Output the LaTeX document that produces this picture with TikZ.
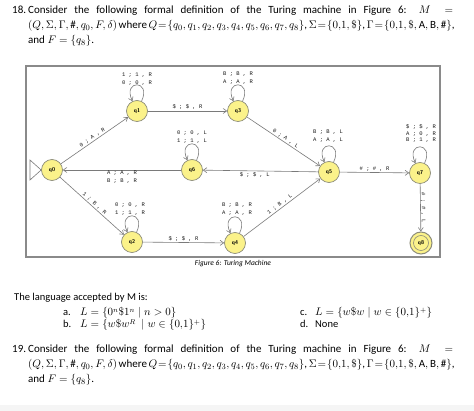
\documentclass[tikz,border=0pt]{standalone}
\usepackage{fontspec}
\setmainfont{Carlito}
\newfontfamily\monof{Liberation Mono}
\usetikzlibrary{arrows.meta}
\definecolor{stfill}{HTML}{FBF28A}
\definecolor{stline}{HTML}{8C8C7A}
\definecolor{edgec}{HTML}{7A7A7A}
\definecolor{framec}{HTML}{8A8A8A}
\newcommand{\qdef}[1]{\noindent\llap{\makebox[16pt][l]{#1.}}Consider the following formal definition of the Turing machine in Figure 6: $M=$\linebreak
\makebox[\linewidth][s]{\thickmuskip=3.5mu plus 2mu minus 2mu\medmuskip=2.5mu plus 1mu minus 1mu$(Q,\Sigma,\Gamma,\#,q_0,F,\delta)$ where $Q=\{q_0,q_1,q_2,q_3,q_4,q_5,q_6,q_7,q_8\}$, $\Sigma=\{0{,}1,\$\}$, $\Gamma=\{0{,}1,\$,\mathrm{A},\mathrm{B},\#\}$,}\linebreak
and $F=\{q_8\}$.}
\begin{document}
\begin{tikzpicture}[x=1pt,y=1pt,
  state/.style={circle, minimum size=21pt, inner sep=0pt, fill=stfill, draw=stline, line width=0.7pt,
    font=\sffamily\bfseries\fontsize{5.5}{6}\selectfont},
  tr/.style={draw=edgec, line width=0.6pt, -{Straight Barb[length=3.5pt,width=5pt]}},
  selfloop/.style={out=65, in=115, distance=24pt},
  lab/.style={font=\monof\fontsize{5.5}{8}\selectfont, inner sep=1pt, align=center, text=black!90},
  body/.style={font=\fontsize{11}{15}\selectfont, inner sep=0pt},
  ans/.style={font=\fontsize{10.5}{12}\selectfont, inner sep=0pt, anchor=base west},
  para/.style={body, anchor=north west, text width=425pt, align=justify}
]
\useasboundingbox (0,0) rectangle (474,-411);
\fill[white] (0,0) rectangle (474,-411);
\fill[black!4] (0,-405) rectangle (474,-411);

% question 18
\node[para] (t18) at (28,-6) {\qdef{18}};

% frame
\draw[framec, line width=1.2pt] (26,-66) rectangle (440,-257);

% states
\node[state] (q0) at (52,-170) {q0};
\node[state] (q1) at (137,-111) {q1};
\node[state] (q3) at (238,-111) {q3};
\node[state] (q6) at (192,-170) {q6};
\node[state] (q5) at (329,-172) {q5};
\node[state] (q7) at (420,-173) {q7};
\node[state] (q2) at (132,-242) {q2};
\node[state] (q4) at (235,-243) {q4};
\node[state, minimum size=22pt, line width=1pt] (q8) at (421,-243) {};
\node[circle, minimum size=15pt, inner sep=0pt, draw=stline, line width=0.6pt,
  font=\sffamily\bfseries\fontsize{5.5}{6}\selectfont] (q8i) at (q8) {q8};

% initial marker
\coordinate (ia) at (30,-160);
\coordinate (ib) at (30,-180);
\draw[edgec, line width=0.6pt] (ia) -- (q0.west) -- (ib) -- cycle;

% transitions
\draw[tr] (q0) -- node[lab, sloped, above] {0 ; A , R} (q1);
\draw[tr] (q1) -- node[lab, above] {\$ ; \$ , R} (q3);
\draw[tr] (q3) -- node[lab, sloped, above] {0 ; A , L} (q5);
\draw[tr] (q5) -- node[lab, below, pos=0.55] {\$ ; \$ , L} (q6);
\draw[tr] (q6) -- node[lab, below, pos=0.5] {A ; A , R\\B ; B , R} (q0);
\draw[tr] (q0) -- node[lab, sloped, above] {1 ; B , R} (q2);
\draw[tr] (q2) -- node[lab, above] {\$ ; \$ , R} (q4);
\draw[tr] (q4) -- node[lab, sloped, above] {1 ; B , L} (q5);
\draw[tr] (q5) -- node[lab, above] {\# ; \# , R} (q7);
\draw[tr] (q7) -- node[lab, sloped, above, inner sep=0pt] {\# ; \# , L} (q8);

% loops
\draw[tr] (q1) to[selfloop] (q1);
\draw[tr] (q3) to[selfloop] (q3);
\draw[tr] (q6) to[selfloop] (q6);
\draw[tr] (q5) to[selfloop] (q5);
\draw[tr] (q7) to[selfloop] (q7);
\draw[tr] (q2) to[selfloop] (q2);
\draw[tr] (q4) to[selfloop] (q4);

\node[lab] (l1) at (137,-79) {1 ; 1 , R\\0 ; 0 , R};
\node[lab] (l3) at (238,-78) {B ; B , R\\A ; A , R};
\node[lab] (l6) at (192,-137) {0 ; 0 , L\\1 ; 1 , L};
\node[lab] (l5) at (328,-136) {B ; B , L\\A ; A , L};
\node[lab, font=\monof\fontsize{5.5}{6.5}\selectfont] (l7) at (421,-134) {\$ ; \$ , R\\A ; 0 , R\\B ; 1 , R};
\node[lab] (l2) at (130,-209) {0 ; 0 , R\\1 ; 1 , R};
\node[lab] (l4) at (237,-209) {B ; B , R\\A ; A , R};

% caption
\node[inner sep=0pt, font=\itshape\fontsize{7.5}{9}\selectfont] (cap) at (233,-264) {Figure 6: Turing Machine};

% answers
\node[ans] (lang) at (14,-301) {The language accepted by M is:};
\node[ans] (oa) at (63,-316) {a.};
\node[ans] (la) at (80,-316) {$L=\{0^n\$1^n\mid n>0\}$};
\node[ans] (ob) at (63,-328) {b.};
\node[ans] (lb) at (80,-328) {$L=\{w\$w^R\ \mid w\in\{0{,}1\}^+\}$};
\node[ans] (oc) at (300,-316) {c.};
\node[ans] (lc) at (315,-316) {$L=\{w\$w\mid w\in\{0{,}1\}^+\}$};
\node[ans] (od) at (300,-328) {d.};
\node[ans] (ld) at (315,-328) {None};

% question 19
\node[para] (t19) at (28,-345) {\qdef{19}};
\end{tikzpicture}
\end{document}
